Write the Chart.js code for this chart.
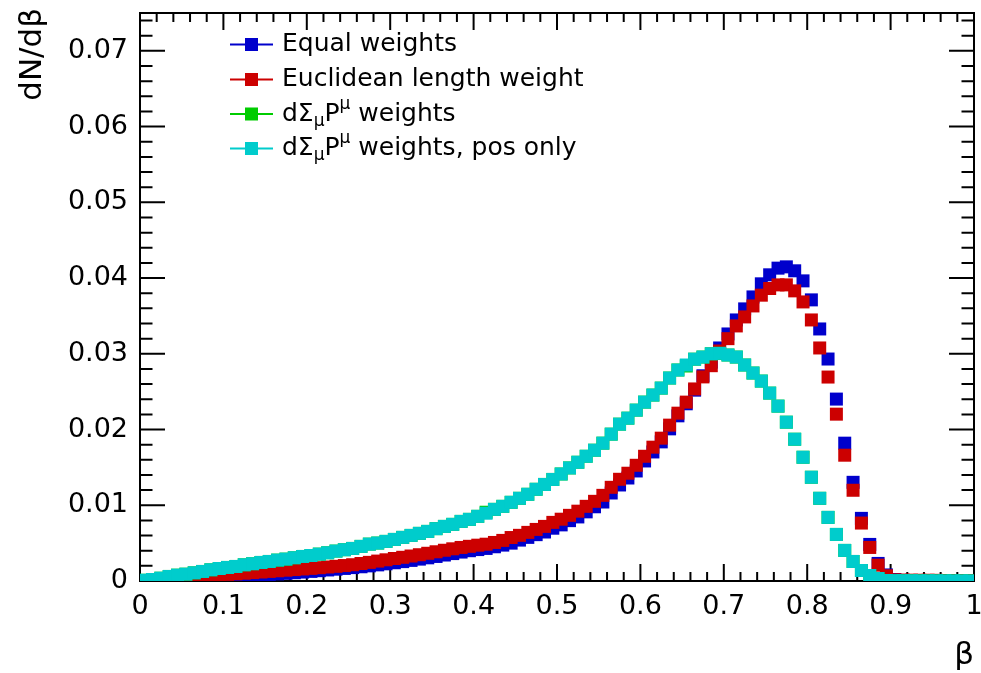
<!DOCTYPE html>
<html><head><meta charset="utf-8">
<script src="https://cdn.jsdelivr.net/npm/chart.js@4/dist/chart.umd.min.js"></script>
<style>html,body{margin:0;padding:0;background:#fff;}#wrap{width:981px;height:673px;}</style>
</head><body><div id="wrap"><canvas id="c" width="981" height="673"></canvas></div>
<script>
// ---- data ----
const binCenters = [0.005,0.015,0.025,0.035,0.045,0.055,0.065,0.075,0.085,0.095,
0.105,0.115,0.125,0.135,0.145,0.155,0.165,0.175,0.185,0.195,
0.205,0.215,0.225,0.235,0.245,0.255,0.265,0.275,0.285,0.295,
0.305,0.315,0.325,0.335,0.345,0.355,0.365,0.375,0.385,0.395,
0.405,0.415,0.425,0.435,0.445,0.455,0.465,0.475,0.485,0.495,
0.505,0.515,0.525,0.535,0.545,0.555,0.565,0.575,0.585,0.595,
0.605,0.615,0.625,0.635,0.645,0.655,0.665,0.675,0.685,0.695,
0.705,0.715,0.725,0.735,0.745,0.755,0.765,0.775,0.785,0.795,
0.805,0.815,0.825,0.835,0.845,0.855,0.865,0.875,0.885,0.895,
0.905,0.915,0.925,0.935,0.945,0.955,0.965,0.975,0.985,0.995];

const equalWeights = [0.00000,0.00002,0.00005,0.00010,0.00015,0.00020,0.00026,0.00032,0.00038,0.00044,
0.00050,0.00057,0.00064,0.00071,0.00078,0.00085,0.00093,0.00101,0.00109,0.00118,
0.00127,0.00136,0.00146,0.00156,0.00166,0.00177,0.00188,0.00200,0.00213,0.00227,
0.00241,0.00256,0.00272,0.00289,0.00306,0.00324,0.00343,0.00362,0.00382,0.00400,
0.00415,0.00430,0.00452,0.00474,0.00500,0.00540,0.00576,0.00612,0.00647,0.00697,
0.00741,0.00797,0.00846,0.00913,0.00980,0.01043,0.01162,0.01268,0.01360,0.01453,
0.01585,0.01704,0.01837,0.02009,0.02181,0.02340,0.02520,0.02710,0.02890,0.03077,
0.03262,0.03447,0.03593,0.03751,0.03924,0.04043,0.04131,0.04148,0.04096,0.03963,
0.03712,0.03328,0.02931,0.02402,0.01820,0.01303,0.00827,0.00483,0.00232,0.00080,
0.00020,0.00008,0.00005,0.00003,0.00002,0.00002,0.00001,0.00001,0.00001,0.00000];

const euclideanWeight = [0.00001,0.00008,0.00016,0.00025,0.00034,0.00043,0.00052,0.00061,0.00070,0.00078,
0.00087,0.00095,0.00103,0.00111,0.00119,0.00127,0.00135,0.00143,0.00151,0.00159,
0.00167,0.00176,0.00185,0.00194,0.00204,0.00215,0.00231,0.00246,0.00263,0.00280,
0.00297,0.00313,0.00330,0.00347,0.00366,0.00386,0.00406,0.00425,0.00443,0.00458,
0.00473,0.00486,0.00509,0.00536,0.00574,0.00603,0.00642,0.00681,0.00721,0.00774,
0.00816,0.00867,0.00922,0.00986,0.01052,0.01131,0.01237,0.01343,0.01423,0.01528,
0.01647,0.01767,0.01886,0.02058,0.02216,0.02362,0.02536,0.02695,0.02843,0.03037,
0.03200,0.03368,0.03487,0.03632,0.03774,0.03862,0.03910,0.03910,0.03831,0.03685,
0.03447,0.03077,0.02693,0.02203,0.01661,0.01198,0.00765,0.00443,0.00209,0.00069,
0.00015,0.00012,0.00011,0.00010,0.00010,0.00009,0.00006,0.00004,0.00003,0.00002];

const dSigmaWeights = [0.00010,0.00020,0.00037,0.00060,0.00077,0.00090,0.00108,0.00126,0.00148,0.00165,
0.00179,0.00192,0.00214,0.00228,0.00245,0.00258,0.00276,0.00289,0.00307,0.00324,
0.00337,0.00355,0.00373,0.00395,0.00413,0.00430,0.00457,0.00487,0.00501,0.00523,
0.00549,0.00576,0.00602,0.00629,0.00655,0.00691,0.00721,0.00748,0.00787,0.00814,
0.00854,0.00908,0.00946,0.00986,0.01039,0.01092,0.01145,0.01211,0.01275,0.01341,
0.01413,0.01493,0.01568,0.01647,0.01727,0.01820,0.01939,0.02071,0.02150,0.02256,
0.02362,0.02455,0.02547,0.02680,0.02786,0.02839,0.02929,0.02957,0.03000,0.03006,
0.02984,0.02957,0.02852,0.02746,0.02640,0.02481,0.02309,0.02097,0.01872,0.01634,
0.01370,0.01092,0.00840,0.00615,0.00404,0.00258,0.00139,0.00073,0.00033,0.00007,
0.00004,0.00003,0.00003,0.00002,0.00002,0.00002,0.00001,0.00001,0.00001,0.00001];

const dSigmaPosOnly = [0.00010,0.00020,0.00037,0.00060,0.00077,0.00090,0.00108,0.00126,0.00148,0.00165,
0.00179,0.00192,0.00214,0.00228,0.00245,0.00258,0.00276,0.00289,0.00307,0.00324,
0.00337,0.00355,0.00373,0.00395,0.00413,0.00430,0.00457,0.00487,0.00501,0.00523,
0.00549,0.00576,0.00602,0.00629,0.00655,0.00691,0.00721,0.00748,0.00787,0.00814,
0.00854,0.00895,0.00946,0.00986,0.01039,0.01092,0.01145,0.01211,0.01275,0.01341,
0.01413,0.01493,0.01568,0.01647,0.01727,0.01820,0.01939,0.02071,0.02150,0.02256,
0.02362,0.02455,0.02547,0.02680,0.02786,0.02852,0.02929,0.02957,0.03000,0.03006,
0.02984,0.02957,0.02852,0.02746,0.02640,0.02481,0.02309,0.02097,0.01872,0.01634,
0.01370,0.01092,0.00840,0.00615,0.00404,0.00258,0.00139,0.00073,0.00033,0.00007,
0.00004,0.00003,0.00003,0.00002,0.00002,0.00002,0.00001,0.00001,0.00001,0.00001];

const xTickValues = [0,0.1,0.2,0.3,0.4,0.5,0.6,0.7,0.8,0.9,1];
const xTickLabels = ['0','0.1','0.2','0.3','0.4','0.5','0.6','0.7','0.8','0.9','1'];
const yTickValues = [0,0.01,0.02,0.03,0.04,0.05,0.06,0.07];
const yTickLabels = ['0','0.01','0.02','0.03','0.04','0.05','0.06','0.07'];
const seriesNames = ['Equal weights','Euclidean length weight','d\u03A3\u03BCP\u03BC weights','d\u03A3\u03BCP\u03BC weights, pos only'];
const xTitle = '\u03B2';
const yTitle = 'dN/d\u03B2';

// ---- style ----
const colors = ['#0000cc','#cc0000','#00cc00','#00cccc'];
const FONT = '"DejaVu Sans", sans-serif';
const legendParts = [
  [['Equal weights','n']],
  [['Euclidean length weight','n']],
  [['d\u03A3','n'],['\u03BC','sub'],['P','n'],['\u03BC','sup'],[' weights','n']],
  [['d\u03A3','n'],['\u03BC','sub'],['P','n'],['\u03BC','sup'],[' weights, pos only','n']]
];

function minors(majors, n){
  const out=[];
  for(let i=0;i<majors.length-1;i++){
    const a=majors[i], b=majors[i+1];
    for(let k=1;k<n;k++) out.push(a+(b-a)*k/n);
  }
  return out;
}
const xMinor = minors(xTickValues,5);
const yMinor = minors(yTickValues.concat([0.08]),5).filter(v=>v<=0.075);

function noPad(s){ s.paddingLeft=0; s.paddingRight=0; s.paddingTop=0; s.paddingBottom=0; }

const frameTicks = {
  id:'frameTicks',
  beforeDatasetsDraw(chart){
    const {ctx, chartArea:a, scales:{x,y}} = chart;
    ctx.save();
    ctx.strokeStyle='#000'; ctx.lineWidth=2;
    ctx.beginPath();
    ctx.rect(a.left,a.top,a.right-a.left,a.bottom-a.top);
    const xt=(v,len)=>{const p=x.getPixelForValue(v);ctx.moveTo(p,a.bottom);ctx.lineTo(p,a.bottom-len);ctx.moveTo(p,a.top);ctx.lineTo(p,a.top+len);};
    const yt=(v,len)=>{const p=y.getPixelForValue(v);ctx.moveTo(a.left,p);ctx.lineTo(a.left+len,p);ctx.moveTo(a.right,p);ctx.lineTo(a.right-len,p);};
    xTickValues.forEach(v=>xt(v,17));
    xMinor.forEach(v=>xt(v,9));
    yTickValues.forEach(v=>yt(v,25));
    yMinor.forEach(v=>yt(v,12.5));
    ctx.stroke();
    ctx.restore();
  },
  afterDraw(chart){
    const ctx=chart.ctx;
    ctx.save();
    ctx.fillStyle='#000';
    // axis titles
    ctx.font='31px '+FONT;
    ctx.textAlign='right'; ctx.textBaseline='alphabetic';
    ctx.fillText(xTitle, 974, 664);
    ctx.save();
    ctx.translate(41,8); ctx.rotate(-Math.PI/2);
    ctx.fillText(yTitle,0,0);
    ctx.restore();
    // legend
    const markerY=[44.5,79.5,114,148.5];
    const baseY=[51,86,121,155];
    ctx.textAlign='left';
    for(let i=0;i<4;i++){
      ctx.strokeStyle=colors[i]; ctx.lineWidth=2;
      ctx.beginPath(); ctx.moveTo(230,markerY[i]); ctx.lineTo(273,markerY[i]); ctx.stroke();
      ctx.fillStyle=colors[i];
      ctx.fillRect(245,markerY[i]-6.5,13,13);
      ctx.fillStyle='#000';
      let xx=282;
      for(const [t,k] of legendParts[i]){
        let size=25, dy=0;
        if(k==='sub'){size=17;dy=5;} else if(k==='sup'){size=17;dy=-12;}
        ctx.font=size+'px '+FONT;
        ctx.fillText(t,xx,baseY[i]+dy);
        xx+=ctx.measureText(t).width;
      }
    }
    ctx.restore();
  }
};

const series=[equalWeights,euclideanWeight,dSigmaWeights,dSigmaPosOnly];
const datasets=series.map((vals,i)=>({
  label: seriesNames[i],
  data: binCenters.map((b,j)=>({x:b,y:vals[j]})),
  backgroundColor: colors[i],
  borderColor: colors[i],
  pointStyle:'rect',
  pointRadius: 9.19,
  pointBorderWidth: 0,
  pointHoverRadius: 9.19,
  showLine:false,
  order: 4-i
}));

new Chart(document.getElementById('c'),{
  type:'scatter',
  data:{datasets},
  options:{
    responsive:false, animation:false, devicePixelRatio:1, events:[],
    layout:{autoPadding:false,padding:{top:13,right:7,left:0,bottom:0}},
    plugins:{legend:{display:false},tooltip:{enabled:false}},
    scales:{
      x:{type:'linear',min:0,max:1,
        grid:{display:false,drawTicks:false},border:{display:false},
        afterBuildTicks:s=>{s.ticks=xTickValues.map(v=>({value:v}));},
        afterFit:s=>{s.height=92; noPad(s);},
        ticks:{autoSkip:false,maxRotation:0,padding:10,color:'#000',font:{family:FONT,size:27},
          callback:(v,i)=>xTickLabels[i]}
      },
      y:{type:'linear',min:0,max:0.075,
        grid:{display:false,drawTicks:false},border:{display:false},
        afterBuildTicks:s=>{s.ticks=yTickValues.map(v=>({value:v}));},
        afterFit:s=>{s.width=140; noPad(s);},
        ticks:{autoSkip:false,padding:12,color:'#000',font:{family:FONT,size:27},
          callback:(v,i)=>yTickLabels[i]}
      }
    }
  },
  plugins:[frameTicks]
});
</script></body></html>
